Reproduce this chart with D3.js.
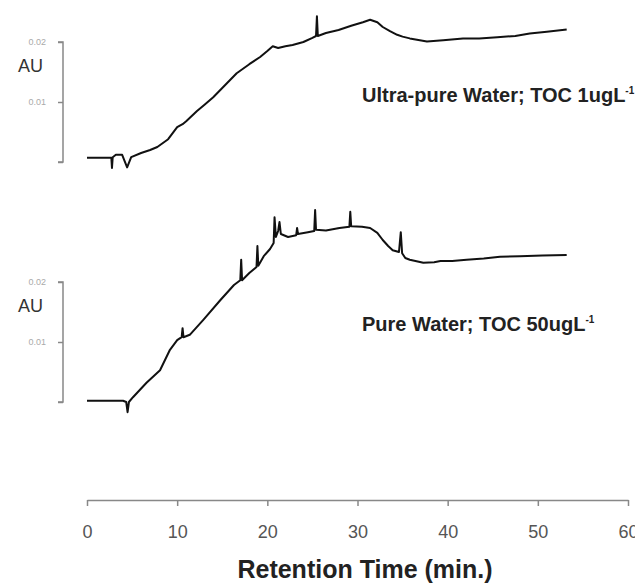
<!DOCTYPE html>
<html>
<head>
<meta charset="utf-8">
<script src="https://cdn.jsdelivr.net/npm/d3@7"></script>
<style>
body{ margin:0; background:#fff; }
svg text{ font-family:"Liberation Sans", Arial, sans-serif; }
.trace{ fill:none; stroke:#111; stroke-width:2; stroke-linejoin:round; }
.yaxis path, .yaxis line, .xaxis path, .xaxis line{ stroke:#888; stroke-width:1.5; }
</style>
</head>
<body>
<svg></svg>
<script>
var width = 635,
    height = 583;

// retention time (min) and absorbance (AU)
var upTime = [0, 2.7, 2.77, 2.85, 3.2, 3.9, 4.45, 4.9, 6.0, 7.0, 7.8, 9.0, 10.0, 10.6, 11.0, 12.2, 13.0, 14.0, 15.3, 16.6,
              18.0, 19.2, 20.0, 20.6, 21.2, 22.0, 22.8, 24.0, 25.0, 25.4, 25.5, 25.6, 26.5, 27.9, 29.3, 30.6, 31.4, 32.2,
              32.8, 33.6, 34.4, 35.0, 35.8, 37.7, 39.5, 41.7, 43.5, 45.5, 47.5, 49.1, 51.0, 53.2];
var upAU = [0.0007, 0.0007, -0.0010, 0.0008, 0.0012, 0.0012, -0.0009, 0.0008, 0.0015, 0.0020, 0.0025, 0.0038, 0.0058, 0.0063, 0.0068, 0.0085, 0.0095, 0.0108, 0.0128, 0.0148,
            0.0163, 0.0175, 0.0185, 0.0193, 0.0190, 0.0193, 0.0195, 0.0200, 0.0207, 0.0210, 0.0243, 0.0210, 0.0215, 0.0220, 0.0227, 0.0233, 0.0237, 0.0233,
            0.0225, 0.0218, 0.0212, 0.0209, 0.0206, 0.0201, 0.0203, 0.0206, 0.0206, 0.0208, 0.0210, 0.0214, 0.0217, 0.0221];

var pwTime = [0, 4.0, 4.35, 4.5, 4.65, 5.1, 6.6, 8.1, 9.2, 10.0, 10.5, 10.6, 10.7, 11.4, 12.9, 14.8, 16.3, 17.0, 17.1, 17.2,
              18.0, 18.8, 18.9, 19.0, 19.6, 20.3, 20.7, 20.8, 20.95, 21.2, 21.35, 21.5, 22.3, 23.2, 23.3, 23.4, 24.5, 25.2, 25.3, 25.4,
              26.5, 28.0, 29.1, 29.2, 29.3, 30.5, 31.4, 32.2, 32.8, 33.4, 33.9, 34.6, 34.8, 34.95, 35.3, 35.8, 37.3, 38.5, 39.2,
              40.5, 42.1, 44.0, 45.8, 48.0, 50.5, 53.2];
var pwAU = [0.0002, 0.0002, 0.0000, -0.0017, 0.0000, 0.0008, 0.0032, 0.0053, 0.0087, 0.0103, 0.0108, 0.0123, 0.0108, 0.0112, 0.0137, 0.0170, 0.0195, 0.0203, 0.0237, 0.0203,
            0.0215, 0.0225, 0.0260, 0.0227, 0.0243, 0.0255, 0.0265, 0.0308, 0.0275, 0.0285, 0.0300, 0.0280, 0.0275, 0.0278, 0.0290, 0.0280, 0.0283, 0.0285, 0.0320, 0.0287,
            0.0286, 0.0290, 0.0292, 0.0317, 0.0293, 0.0292, 0.0290, 0.0282, 0.0270, 0.0260, 0.0253, 0.0250, 0.0283, 0.0248, 0.0240, 0.0237, 0.0232, 0.0233, 0.0235,
            0.0235, 0.0237, 0.0239, 0.0242, 0.0243, 0.0244, 0.0245];

var xTicks = [0, 10, 20, 30, 40, 50, 60];
var yTicks = [0, 0.01, 0.02];
var yTickLabels = ["", "0.01", "0.02"];

var svg = d3.select("svg")
    .attr("width", width)
    .attr("height", height);

var x = d3.scaleLinear().domain([0, 60]).range([87, 628]);
var yTop = d3.scaleLinear().domain([0, 0.02]).range([162, 42]);
var yBot = d3.scaleLinear().domain([0, 0.02]).range([402, 282]);

function drawPanel(y, times, vals, label, sup, labelY, auY) {
	var yAxis = d3.axisLeft(y)
		.tickValues(yTicks)
		.tickSize(5)
		.tickPadding(12)
		.tickFormat(function(d, i){ return yTickLabels[i]; });
	var g = svg.append("g")
		.attr("class", "yaxis")
		.attr("transform", "translate(63,0)")
		.call(yAxis);
	g.select(".domain").attr("d", "M-5," + y(0) + "H0V" + y(0.02) + "H-5");
	g.selectAll("text")
		.style("font-size", "9px")
		.style("fill", "#aaa");

	svg.append("text")
		.attr("x", 18)
		.attr("y", auY)
		.style("font-size", "18px")
		.style("fill", "#333")
		.text("AU");

	var line = d3.line()
		.x(function(d, i){ return x(times[i]); })
		.y(function(d){ return y(d); });
	svg.append("path")
		.attr("class", "trace")
		.attr("d", line(vals));

	var t = svg.append("text")
		.attr("x", 362)
		.attr("y", labelY)
		.style("font-size", "20px")
		.style("font-weight", "bold")
		.style("fill", "#222")
		.text(label);
	t.append("tspan")
		.attr("dy", -8)
		.style("font-size", "10px")
		.text(sup);
}

drawPanel(yTop, upTime, upAU, "Ultra-pure Water; TOC 1ugL", "-1", 102, 72);
drawPanel(yBot, pwTime, pwAU, "Pure Water; TOC 50ugL", "-1", 331, 312);

var xAxis = d3.axisBottom(x)
	.tickValues(xTicks)
	.tickSize(6)
	.tickPadding(19)
	.tickSizeOuter(0);
var gx = svg.append("g")
	.attr("class", "xaxis")
	.attr("transform", "translate(0,500)")
	.call(xAxis);
gx.selectAll("text")
	.style("font-size", "18px")
	.style("fill", "#555");

svg.append("text")
	.attr("x", 365)
	.attr("y", 578)
	.attr("text-anchor", "middle")
	.style("font-size", "25px")
	.style("font-weight", "bold")
	.style("fill", "#222")
	.text("Retention Time (min.)");
</script>
</body>
</html>
